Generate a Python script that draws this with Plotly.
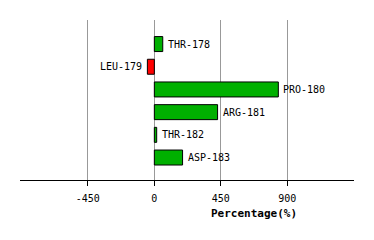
import plotly.graph_objects as go

residues = ["THR-178", "LEU-179", "PRO-180", "ARG-181", "THR-182", "ASP-183"]
values = [57, -47, 839, 428, 16, 191]
tick_vals = [-450, 0, 450, 900]
tick_text = ["-450", "0", "450", "900"]

ypos = list(range(len(residues)))
colors = ["#00B000" if v >= 0 else "#FF0000" for v in values]
mono = "DejaVu Sans Mono"

fig = go.Figure()
fig.add_trace(go.Bar(
    x=values, y=ypos, orientation="h", width=0.66,
    marker=dict(color=colors, line=dict(color="black", width=1)),
    hoverinfo="skip", showlegend=False,
))

annotations = []
for name, v, y in zip(residues, values, ypos):
    annotations.append(dict(
        text=name, x=v, y=y, xref="x", yref="y",
        xanchor="left" if v >= 0 else "right", yanchor="middle",
        xshift=3 if v >= 0 else -3, showarrow=False,
        font=dict(family=mono, size=10, color="black"),
    ))
annotations.append(dict(
    text="<b>Percentage(%)</b>", xref="paper", yref="paper",
    x=0.70, y=-0.21, xanchor="center", yanchor="middle",
    showarrow=False, font=dict(family=mono, size=11, color="black"),
))

fig.update_layout(
    width=374, height=240,
    margin=dict(l=20, r=20, t=20, b=60),
    paper_bgcolor="white", plot_bgcolor="white",
    xaxis=dict(
        range=[-909, 1351], tickvals=tick_vals, ticktext=tick_text,
        showgrid=True, gridcolor="#999999", gridwidth=1,
        zeroline=True, zerolinecolor="#999999", zerolinewidth=1,
        showline=True, linecolor="black", linewidth=1,
        ticks="outside", ticklen=5, tickcolor="black",
        ticklabelstandoff=4,
        tickfont=dict(family=mono, size=10, color="black"),
    ),
    yaxis=dict(
        range=[5.99, -1.06], showticklabels=False, showgrid=False,
        zeroline=False, showline=False, ticks="",
    ),
    annotations=annotations,
)

fig.write_html("out.html")
